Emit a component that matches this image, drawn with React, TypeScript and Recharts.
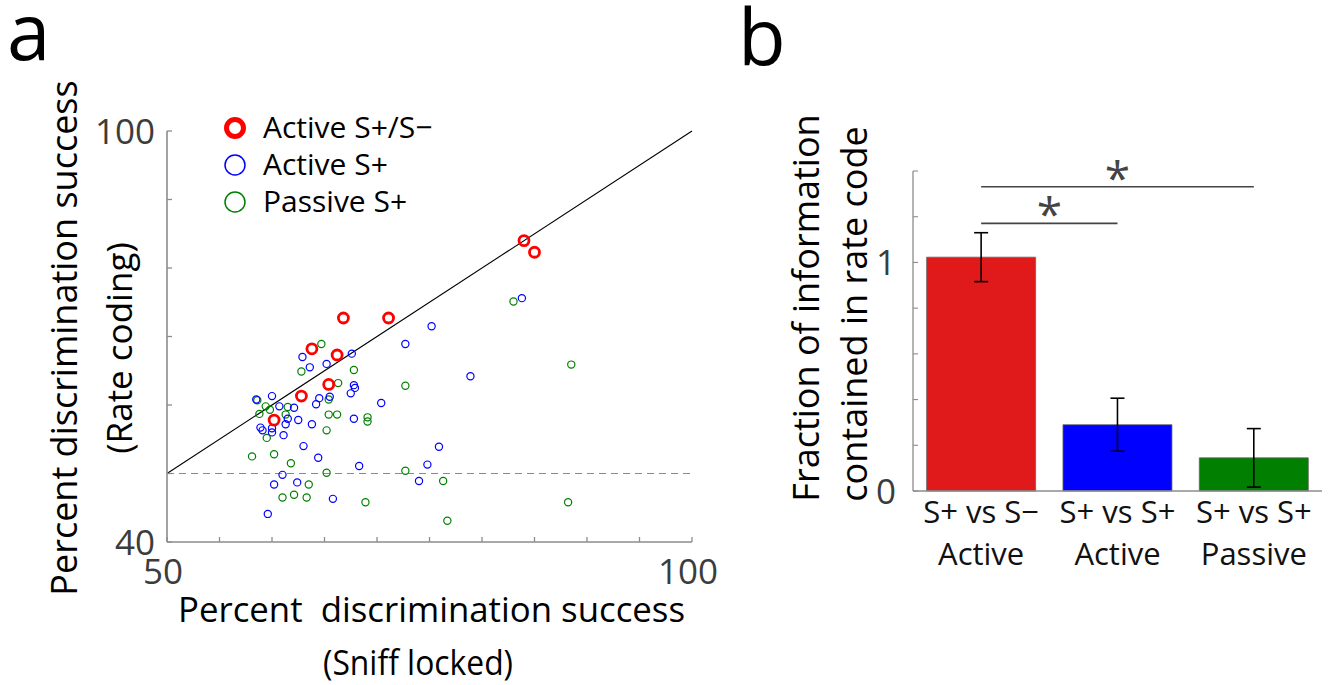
import React from 'react';
import {
  ScatterChart, Scatter, XAxis, YAxis, ReferenceLine, Legend,
  BarChart, Bar, Cell, ErrorBar,
} from 'recharts';

// ---------- data: panel a ----------
const seriesNames = ['Active S+/S−', 'Active S+', 'Passive S+'];

const activeSPlusSMinus: [number, number][] = [
  [84.0, 84.0], [85.0, 82.3], [66.8, 72.7], [71.1, 72.7], [63.8, 68.2],
  [66.2, 67.3], [65.4, 63.0], [62.8, 61.3], [60.2, 57.8],
];

const activeSPlus: [number, number][] = [
  [83.8, 75.6], [75.2, 71.5], [72.7, 68.9], [67.6, 67.5], [62.9, 67.0],
  [63.6, 65.5], [65.2, 66.0], [78.9, 64.2], [67.8, 62.9], [67.9, 62.5],
  [67.5, 61.7], [60.0, 61.3], [58.5, 60.8], [64.5, 61.0], [65.5, 61.2],
  [64.2, 60.1], [70.4, 60.3], [60.7, 59.8], [62.1, 59.6], [61.5, 58.0],
  [62.5, 57.8], [61.3, 57.2], [63.8, 57.2], [67.8, 58.0], [58.9, 56.7],
  [59.1, 56.3], [60.0, 56.6], [60.0, 56.0], [61.1, 55.6], [63.0, 54.0],
  [64.4, 52.3], [75.9, 53.9], [68.3, 51.1], [74.8, 51.3], [61.0, 49.8],
  [60.2, 48.4], [62.4, 48.7], [74.0, 48.9], [65.8, 46.3], [59.6, 44.1],
];

const passiveSPlus: [number, number][] = [
  [83.0, 75.1], [64.7, 68.9], [62.8, 64.9], [67.8, 65.1], [88.5, 65.9],
  [72.7, 62.8], [66.3, 63.2], [58.6, 60.7], [65.4, 60.8], [59.4, 59.8],
  [59.8, 59.3], [58.8, 58.7], [61.5, 59.7], [61.3, 58.6], [65.4, 58.6],
  [66.2, 58.6], [69.1, 58.2], [69.1, 57.6], [65.2, 56.3], [59.5, 55.2],
  [58.1, 52.5], [60.2, 52.8], [61.8, 51.5], [65.2, 50.1], [72.7, 50.4],
  [63.5, 48.4], [76.3, 48.9], [61.0, 46.5], [62.1, 46.9], [63.3, 46.5],
  [68.9, 45.8], [88.2, 45.8], [76.7, 43.1],
];

const scatterXTicks = [50, 55, 60, 65, 70, 75, 80, 85, 90, 95, 100];
const scatterXLabels = [50, 100];
const scatterYTicks = [40, 50, 60, 70, 80, 90, 100];
const scatterYLabels = [40, 100];
const chanceLevel = 50;

// ---------- data: panel b ----------
const barLine1 = ['S+ vs S−', 'S+ vs S+', 'S+ vs S+'];
const barLine2 = ['Active', 'Active', 'Passive'];
const barValues = [1.023, 0.29, 0.145];
const barErrors = [0.107, 0.116, 0.128];
const barYTicks = [0, 0.2, 0.4, 0.6, 0.8, 1.0, 1.2, 1.4];
const barYLabels = [0, 1];
const sigFrom = [0, 0];
const sigTo = [1, 2];
const sigLevel = [1.171, 1.331];

// ---------- styles ----------
const FONT = '"Open Sans", "Noto Sans", sans-serif';
const AXIS = '#8c8c8c';
const TICK_TEXT = '#3c3c3c';
const RED = '#FF0000';
const BLUE = '#0000FF';
const GREEN = '#008000';
const BAR_COLORS = ['#E0191B', '#0000FF', '#007F00'];

const toXY = (pts: [number, number][]) => pts.map(([x, y]) => ({ x, y }));

const ring = (color: string, r: number, sw: number) => (props: any) => (
  <circle cx={props.cx} cy={props.cy} r={r} fill="none" stroke={color} strokeWidth={sw} />
);

const ScatterXTick = (props: any) => {
  const { x, y, payload } = props;
  const v = payload.value;
  return (
    <g>
      <line x1={x} x2={x} y1={y} y2={y - 5} stroke={AXIS} strokeWidth={1.3} />
      {scatterXLabels.includes(v) && (
        <text x={x - 4} y={y + 42} textAnchor="middle" fontSize={35} fill={TICK_TEXT} fontFamily={FONT}>
          {v}
        </text>
      )}
    </g>
  );
};

const ScatterYTick = (props: any) => {
  const { x, y, payload } = props;
  const v = payload.value;
  return (
    <g>
      <line x1={x} x2={x + 5} y1={y} y2={y} stroke={AXIS} strokeWidth={1.3} />
      {scatterYLabels.includes(v) && (
        <text x={x - 12} y={y} dy="0.36em" textAnchor="end" fontSize={35} fill={TICK_TEXT} fontFamily={FONT}>
          {v}
        </text>
      )}
    </g>
  );
};

const ScatterXTitle = (props: any) => {
  const vb = props.viewBox;
  return (
    <g fontFamily={FONT} fill="#000">
      <text x={vb.x + 11} y={vb.y + 80} fontSize={35} textLength={507} lengthAdjust="spacingAndGlyphs" style={{ whiteSpace: 'pre' }}>
        {'Percent  discrimination success'}
      </text>
      <text x={vb.x + 156} y={vb.y + 133} fontSize={34} textLength={190} lengthAdjust="spacingAndGlyphs">
        (Sniff locked)
      </text>
    </g>
  );
};

const ScatterYTitle = (props: any) => {
  const vb = props.viewBox;
  const ax = vb.x + (vb.width || 0);
  const x1 = ax - 90;
  const x2 = ax - 35;
  const c1 = 338;
  const c2 = 348;
  return (
    <g fontFamily={FONT} fill="#000">
      <text x={x1} y={c1} fontSize={36} textAnchor="middle" transform={`rotate(-90, ${x1}, ${c1})`}>
        Percent discrimination success
      </text>
      <text x={x2} y={c2} fontSize={35} textAnchor="middle" transform={`rotate(-90, ${x2}, ${c2})`}>
        (Rate coding)
      </text>
    </g>
  );
};

const legendColors = [RED, BLUE, GREEN];
const legendWidths = [5, 1.5, 1.5];
const legendRadius = [8.5, 10, 10];

const ScatterLegend = () => (
  <svg width={270} height={125} style={{ overflow: 'visible' }}>
    {seriesNames.map((name, i) => (
      <g key={name}>
        <circle cx={20} cy={23 + i * 37} r={legendRadius[i]} fill="none" stroke={legendColors[i]} strokeWidth={legendWidths[i]} />
        <text x={48} y={33 + i * 37} fontSize={30} fontFamily={FONT} fill="#000">{name}</text>
      </g>
    ))}
  </svg>
);

// ---------- panel b components ----------
const barData = barLine1.map((l, i) => ({
  key: `${l} ${barLine2[i]}`,
  value: barValues[i],
  err: barErrors[i],
}));

const BarYTick = (props: any) => {
  const { x, y, payload } = props;
  const v = payload.value;
  return (
    <g>
      <line x1={x} x2={x + 5} y1={y} y2={y} stroke={AXIS} strokeWidth={1.1} />
      {barYLabels.includes(v) && (
        <text x={x - 17} y={y} dy="0.36em" textAnchor="end" fontSize={35} fill={TICK_TEXT} fontFamily={FONT}>
          {v}
        </text>
      )}
    </g>
  );
};

const BarXTick = (props: any) => {
  const { x, y, index } = props;
  return (
    <g fontFamily={FONT} fill="#111" fontSize={31}>
      <text x={x} y={y + 32} textAnchor="middle">{barLine1[index]}</text>
      <text x={x} y={y + 74} textAnchor="middle">{barLine2[index]}</text>
    </g>
  );
};

const BarYTitle = (props: any) => {
  const vb = props.viewBox;
  const ax = vb.x + (vb.width || 0);
  const x1 = ax - 94;
  const x2 = ax - 46;
  const c1 = 308;
  const c2 = 314;
  return (
    <g fontFamily={FONT} fill="#000">
      <text x={x1} y={c1} fontSize={36} textAnchor="middle" transform={`rotate(-90, ${x1}, ${c1})`}>
        Fraction of information
      </text>
      <text x={x2} y={c2} fontSize={36} textAnchor="middle" transform={`rotate(-90, ${x2}, ${c2})`}>
        contained in rate code
      </text>
    </g>
  );
};

const SigStar = (props: any) => {
  const vb = props.viewBox || {};
  const cx = vb.x + (vb.width || 0) / 2;
  return (
    <text x={cx} y={vb.y + 8} textAnchor="middle" fontSize={46} fill="#444" fontFamily={FONT}>
      *
    </text>
  );
};

export default function App() {
  return (
    <div style={{ position: 'absolute', left: 0, top: 0, width: 1334, height: 685, background: '#fff', overflow: 'hidden' }}>
      {/* panel a */}
      <div style={{ position: 'absolute', left: 0, top: 0 }}>
        <ScatterChart width={720} height={685} margin={{ top: 131, right: 28, bottom: 142, left: 166 }}>
          <XAxis
            type="number"
            dataKey="x"
            domain={[50, 100]}
            ticks={scatterXTicks}
            interval={0}
            height={1}
            tickSize={0}
            tickMargin={0}
            tickLine={false}
            axisLine={{ stroke: AXIS, strokeWidth: 1.6 }}
            tick={<ScatterXTick />}
            allowDataOverflow
            label={{ content: (p: any) => <ScatterXTitle {...p} /> }}
          />
          <YAxis
            type="number"
            dataKey="y"
            domain={[40, 100]}
            ticks={scatterYTicks}
            interval={0}
            width={1}
            tickSize={0}
            tickMargin={0}
            tickLine={false}
            axisLine={{ stroke: AXIS, strokeWidth: 1.6 }}
            tick={<ScatterYTick />}
            allowDataOverflow
            label={{ content: (p: any) => <ScatterYTitle {...p} /> }}
          />
          <ReferenceLine y={chanceLevel} stroke="#8a8a8a" strokeWidth={1.2} strokeDasharray="7 5" />
          <ReferenceLine
            segment={[{ x: 50, y: 50 }, { x: 100, y: 100 }]}
            stroke="#000"
            strokeWidth={1.1}
          />
          <Scatter name={seriesNames[2]} data={toXY(passiveSPlus)} shape={ring(GREEN, 3.6, 1.2)} isAnimationActive={false} />
          <Scatter name={seriesNames[1]} data={toXY(activeSPlus)} shape={ring(BLUE, 3.6, 1.2)} isAnimationActive={false} />
          <Scatter name={seriesNames[0]} data={toXY(activeSPlusSMinus)} shape={ring(RED, 5.0, 2.8)} isAnimationActive={false} />
          <Legend
            layout="vertical"
            align="center"
            verticalAlign="middle"
            content={() => <ScatterLegend />}
            wrapperStyle={{ position: 'absolute', left: 215, top: 105, width: 270, height: 125 }}
          />
        </ScatterChart>
      </div>

      {/* panel b */}
      <div style={{ position: 'absolute', left: 740, top: 0 }}>
        <BarChart
          width={594}
          height={685}
          data={barData}
          margin={{ top: 171, right: 12, bottom: 193, left: 172 }}
          barCategoryGap="10%"
        >
          <XAxis
            type="category"
            dataKey="key"
            height={1}
            tickSize={0}
            tickMargin={0}
            tickLine={false}
            interval={0}
            axisLine={{ stroke: AXIS, strokeWidth: 1.3 }}
            tick={<BarXTick />}
          />
          <YAxis
            type="number"
            domain={[0, 1.4]}
            ticks={barYTicks}
            interval={0}
            width={1}
            tickSize={0}
            tickMargin={0}
            tickLine={false}
            axisLine={{ stroke: AXIS, strokeWidth: 1.3 }}
            tick={<BarYTick />}
            label={{ content: (p: any) => <BarYTitle {...p} /> }}
          />
          <Bar dataKey="value" stroke="#666" strokeWidth={0.8} isAnimationActive={false}>
            {barData.map((d, i) => (
              <Cell key={d.key} fill={BAR_COLORS[i]} />
            ))}
            <ErrorBar dataKey="err" width={7} stroke="#000" strokeWidth={1.6} direction="y" />
          </Bar>
          {sigLevel.map((lvl, i) => (
            <ReferenceLine
              key={i}
              segment={[
                { x: barData[sigFrom[i]].key, y: lvl },
                { x: barData[sigTo[i]].key, y: lvl },
              ]}
              stroke="#444"
              strokeWidth={1.6}
              ifOverflow="visible"
              label={{ content: (p: any) => <SigStar {...p} /> }}
            />
          ))}
        </BarChart>
      </div>

      {/* panel letters */}
      <svg width={1334} height={685} style={{ position: 'absolute', left: 0, top: 0, pointerEvents: 'none' }}>
        <text x={7} y={60} fontSize={78} fontFamily={FONT} fill="#000">a</text>
        <text x={738} y={65} fontSize={78} fontFamily={FONT} fill="#000">b</text>
      </svg>
    </div>
  );
}
